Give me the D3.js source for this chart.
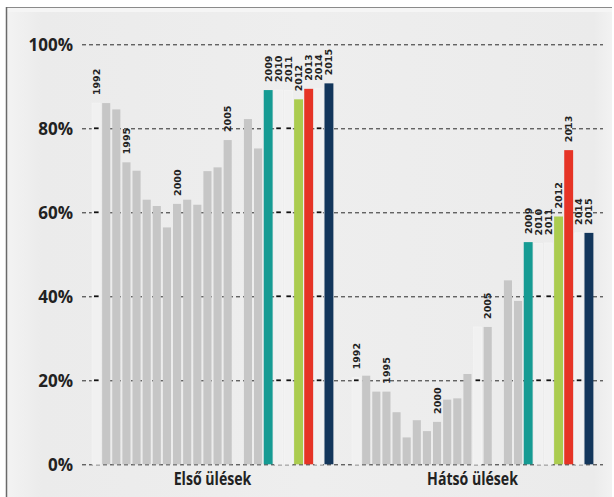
<!DOCTYPE html>
<html>
<head>
<meta charset="utf-8">
<script src="https://cdn.jsdelivr.net/npm/d3@7"></script>
<style>
  html, body { margin: 0; padding: 0; background: #ffffff; }
  svg { display: block; }
</style>
</head>
<body>
<div id="chart"></div>
<script>
// ---------- DATA ----------
const groups = ["Első ülések", "Hátsó ülések"];
const years = [1992,1993,1994,1995,1996,1997,1998,1999,2000,2001,2002,2003,
               2004,2005,2006,2007,2008,2009,2010,2011,2012,2013,2014,2015];
// measured values (%), null = no measured bar
const frontValues = [null,86.0,84.5,71.9,69.9,63.0,61.5,56.4,62.0,63.0,61.8,69.8,
                     70.7,77.2,null,82.2,75.2,89.1,null,null,86.9,89.4,null,90.7];
// pale placeholder bars (%)
const frontGhost  = [86.0,null,null,null,null,null,null,null,null,null,null,null,
                     null,null,null,null,null,null,89.1,89.0,null,null,89.4,null];
const rearValues  = [null,21.1,17.3,17.3,12.4,6.4,10.5,7.9,10.1,15.4,15.7,21.5,
                     null,32.7,null,43.8,38.9,52.9,null,null,59.0,74.8,null,55.1];
const rearGhost   = [20.7,null,null,null,null,null,null,null,null,null,null,null,
                     32.7,null,null,null,null,null,52.6,52.7,null,null,55.1,null];
const labelYears = [1992,1995,2000,2005,2009,2010,2011,2012,2013,2014,2015];
const yTicks = [0,20,40,60,80,100];
const highlightColors = {2009:"#169b93", 2012:"#abcc4f", 2013:"#e63426", 2015:"#13365b"};

// ---------- SETUP ----------
const W = 614, H = 497;
const svg = d3.select("#chart").append("svg").attr("width", W).attr("height", H);
const defs = svg.append("defs");
const grad = defs.append("linearGradient").attr("id","bg").attr("x1","0").attr("x2","1").attr("y1","0").attr("y2","0");
grad.append("stop").attr("offset","0").attr("stop-color","#f3f3f3");
grad.append("stop").attr("offset","0.06").attr("stop-color","#ebebeb");
grad.append("stop").attr("offset","0.5").attr("stop-color","#eeeeee");
grad.append("stop").attr("offset","0.97").attr("stop-color","#ebebeb");
grad.append("stop").attr("offset","1").attr("stop-color","#f2f2f2");

svg.append("rect").attr("x",0).attr("y",0).attr("width",W).attr("height",H).attr("fill","#ffffff");
svg.append("rect").attr("x",6).attr("y",7).attr("width",606).attr("height",H).attr("fill","url(#bg)");
svg.append("rect").attr("x",7).attr("y",8).attr("width",605).attr("height",4).attr("fill","#f5f5f5");
svg.append("line").attr("x1",6).attr("x2",612).attr("y1",7.5).attr("y2",7.5).attr("stroke","#8a8a8a").attr("stroke-width",1.2);
svg.append("line").attr("x1",6.5).attr("x2",6.5).attr("y1",7).attr("y2",H).attr("stroke","#6a6a6a").attr("stroke-width",1.5);

const y = d3.scaleLinear().domain([0,100]).range([464.3, 44.3]);
const xGroup = d3.scaleBand().domain(groups).range([91, 594]).paddingInner(0.0654).paddingOuter(0);
const xYear = d3.scaleBand().domain(years).range([0, xGroup.bandwidth()]).paddingInner(0.2).paddingOuter(0.1);

// ---------- GRID + Y AXIS ----------
const yAxis = d3.axisLeft(y).tickValues(yTicks).tickFormat(d => d + "%").tickSize(-521).tickPadding(9);
const gAxis = svg.append("g").attr("transform","translate(82,0)").call(yAxis);
gAxis.select(".domain").remove();
gAxis.selectAll(".tick line").attr("stroke","#2a2a2a").attr("stroke-width",1).attr("stroke-dasharray","4,3");
gAxis.selectAll(".tick text").attr("fill","#222").attr("font-family","'Open Sans', sans-serif")
  .attr("font-weight","bold").attr("font-size","17px").attr("dy","0.36em");

// ---------- BARS ----------
const series = [
  {group: groups[0], values: frontValues, ghost: frontGhost},
  {group: groups[1], values: rearValues, ghost: rearGhost}
];

series.forEach(s => {
  const g = svg.append("g").attr("transform", `translate(${xGroup(s.group)},0)`);
  const rows = years.map((yr,i) => ({year: yr, v: s.values[i], gh: s.ghost[i]}));

  // ghost bars
  const ghosts = rows.filter(d => d.gh != null);
  g.selectAll("rect.ghost").data(ghosts).enter().append("rect").attr("class","ghost")
    .attr("x", d => xYear(d.year)).attr("width", xYear.bandwidth())
    .attr("y", d => y(d.gh)).attr("height", d => y(0) - y(d.gh))
    .attr("fill","#f1f1f1").attr("stroke","#f5f5f5").attr("stroke-width",0.6);
  // darker grid dash segments over ghost bars
  ghosts.forEach(d => {
    yTicks.filter(t => t > 0 && t < d.gh).forEach(t => {
      g.append("line").attr("x1", xYear(d.year) + 2).attr("x2", xYear(d.year) + xYear.bandwidth() - 1.5)
        .attr("y1", y(t)).attr("y2", y(t)).attr("stroke","#111").attr("stroke-width",1.8);
    });
  });

  // measured bars
  const bars = rows.filter(d => d.v != null);
  g.selectAll("rect.bar").data(bars).enter().append("rect").attr("class","bar")
    .attr("x", d => xYear(d.year) - (highlightColors[d.year] ? 0.4 : 0))
    .attr("width", d => xYear.bandwidth() + (highlightColors[d.year] ? 0.8 : 0))
    .attr("y", d => y(d.v)).attr("height", d => y(0) - y(d.v))
    .attr("fill", d => highlightColors[d.year] || "#c6c6c6");

  // year labels
  const labs = rows.filter(d => labelYears.includes(d.year));
  g.selectAll("text.yl").data(labs).enter().append("text").attr("class","yl")
    .attr("transform", d => {
      const top = d.v != null ? d.v : d.gh;
      return `translate(${xYear(d.year) + xYear.bandwidth()/2 + 3.5},${y(top) - 8}) rotate(-90)`;
    })
    .attr("text-anchor","start")
    .attr("font-family","'DejaVu Sans', sans-serif").attr("font-weight","bold").attr("font-size","9.5px")
    .attr("fill","#222").text(d => d.year);

  // group label
  svg.append("text")
    .attr("transform", `translate(${xGroup(s.group) + xGroup.bandwidth()/2},485) scale(0.83,1)`)
    .attr("text-anchor","middle")
    .attr("font-family","'Open Sans', sans-serif").attr("font-weight","bold").attr("font-size","17px")
    .attr("fill","#222").text(s.group);
});
</script>
</body>
</html>
